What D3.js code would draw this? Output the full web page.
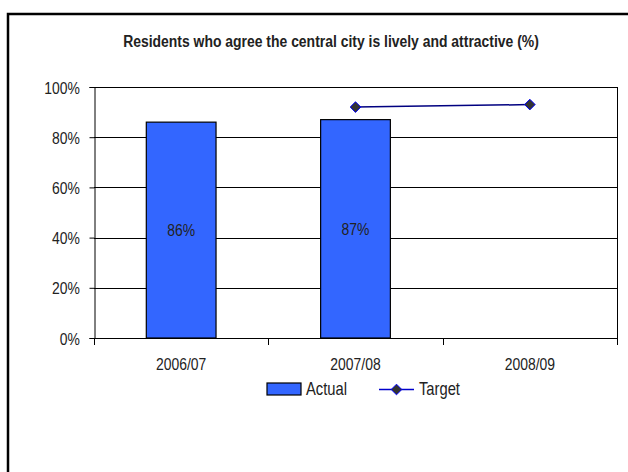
<!DOCTYPE html>
<html>
<head>
<meta charset="utf-8">
<script src="https://cdn.jsdelivr.net/npm/d3@7"></script>
<style>
  body { margin: 0; background: #fff; }
  svg text { font-family: "Liberation Sans", Arial, sans-serif; fill: #222; }
</style>
</head>
<body>
<svg id="chart" width="628" height="472"></svg>
<script>
const categories = ["2006/07", "2007/08", "2008/09"];
const actualValues = [0.86, 0.87, null];
const targetValues = [null, 0.92, 0.93];
const yTicks = [0, 0.2, 0.4, 0.6, 0.8, 1.0];
const chartTitle = "Residents who agree the central city is lively and attractive (%)";

const svg = d3.select("#chart");
const plot = { left: 94, right: 617, top: 87, bottom: 338 };
const NARROW = 0.82; // squeeze Liberation Sans to look like Arial Narrow

// place a text at (x,y) and squeeze it horizontally
const narrow = (sel, x, y) => sel.attr("x", 0).attr("y", 0)
  .attr("transform", (d, i) => `translate(${typeof x === "function" ? x(d, i) : x},${typeof y === "function" ? y(d, i) : y}) scale(${NARROW},1)`);

// outer frame (runs off the page at right and bottom, as in the reference)
svg.append("rect")
  .attr("x", 8).attr("y", 14)
  .attr("width", 700).attr("height", 600)
  .attr("fill", "none").attr("stroke", "#000").attr("stroke-width", 2.5);

svg.append("text")
  .attr("text-anchor", "middle")
  .attr("font-size", 17).attr("font-weight", "bold")
  .text(chartTitle)
  .call(narrow, 331, 47);

const x = d3.scaleBand().domain(categories).range([plot.left, plot.right]).padding(0);
const y = d3.scaleLinear().domain([0, 1]).range([plot.bottom, plot.top]);

// gridlines
svg.append("g")
  .selectAll("line")
  .data(yTicks)
  .enter()
  .append("line")
  .attr("x1", plot.left).attr("x2", plot.right)
  .attr("y1", d => Math.round(y(d)) + 0.5).attr("y2", d => Math.round(y(d)) + 0.5)
  .attr("stroke", "#000").attr("stroke-width", 1);

// plot border right side
svg.append("line")
  .attr("x1", plot.right + 0.5).attr("x2", plot.right + 0.5)
  .attr("y1", plot.top).attr("y2", plot.bottom)
  .attr("stroke", "#000");

// y axis
const yAxis = svg.append("g")
  .attr("transform", `translate(${plot.left + 0.5},0)`)
  .call(d3.axisLeft(y).tickValues(yTicks).tickFormat(d3.format(".0%")).tickSize(5).tickPadding(9));
yAxis.select(".domain").attr("stroke", "#000");
yAxis.selectAll(".tick line").attr("stroke", "#000");
yAxis.selectAll(".tick text")
  .attr("font-size", 17).attr("fill", "#222").attr("font-family", null).attr("dy", null)
  .call(narrow, -14.5, 6);

// x axis: ticks at category boundaries, labels centred
const bounds = categories.map(c => x(c)).concat([plot.right]);
svg.append("g")
  .selectAll("line")
  .data(bounds)
  .enter()
  .append("line")
  .attr("x1", d => Math.round(d) + 0.5).attr("x2", d => Math.round(d) + 0.5)
  .attr("y1", plot.bottom).attr("y2", plot.bottom + 7)
  .attr("stroke", "#000");

svg.append("g")
  .selectAll("text")
  .data(categories)
  .enter()
  .append("text")
  .attr("text-anchor", "middle")
  .attr("font-size", 17)
  .text(d => d)
  .call(narrow, d => x(d) + x.bandwidth() / 2, 370);

// bars
const bw = x.bandwidth() * 0.4;
const barData = categories.map((c, i) => ({ cat: c, v: actualValues[i] })).filter(d => d.v != null);
svg.append("g")
  .selectAll("rect")
  .data(barData)
  .enter()
  .append("rect")
  .attr("x", d => x(d.cat) + (x.bandwidth() - bw) / 2)
  .attr("y", d => y(d.v))
  .attr("width", bw)
  .attr("height", d => y(0) - y(d.v))
  .attr("fill", "#3366ff").attr("stroke", "#000").attr("stroke-width", 1.2);

svg.append("g")
  .selectAll("text")
  .data(barData)
  .enter()
  .append("text")
  .attr("text-anchor", "middle")
  .attr("font-size", 17)
  .text(d => d3.format(".0%")(d.v))
  .call(narrow, d => x(d.cat) + x.bandwidth() / 2, d => (y(d.v) + y(0)) / 2 + 6);

// target line
const targetData = categories.map((c, i) => ({ cat: c, v: targetValues[i] })).filter(d => d.v != null);
const line = d3.line().x(d => x(d.cat) + x.bandwidth() / 2).y(d => y(d.v));
svg.append("path")
  .datum(targetData)
  .attr("d", line)
  .attr("fill", "none").attr("stroke", "#000080").attr("stroke-width", 1.5);

const diamond = d3.symbol().type(d3.symbolDiamond2).size(72);
svg.append("g")
  .selectAll("path")
  .data(targetData)
  .enter()
  .append("path")
  .attr("transform", d => `translate(${x(d.cat) + x.bandwidth() / 2},${y(d.v)})`)
  .attr("d", diamond)
  .attr("fill", "#333").attr("stroke", "#0000ff").attr("stroke-width", 1);

// legend
const legend = svg.append("g");
legend.append("rect")
  .attr("x", 267).attr("y", 383).attr("width", 34).attr("height", 12)
  .attr("fill", "#3366ff").attr("stroke", "#000").attr("stroke-width", 1.2);
legend.append("text").attr("font-size", 18).text("Actual").call(narrow, 306, 395);
legend.append("line")
  .attr("x1", 379).attr("x2", 414).attr("y1", 389.5).attr("y2", 389.5)
  .attr("stroke", "#0000cc").attr("stroke-width", 1.5);
legend.append("path")
  .attr("transform", "translate(396.5,389.5)")
  .attr("d", diamond)
  .attr("fill", "#333").attr("stroke", "#0000ff");
legend.append("text").attr("font-size", 18).text("Target").call(narrow, 419, 395);
</script>
</body>
</html>
